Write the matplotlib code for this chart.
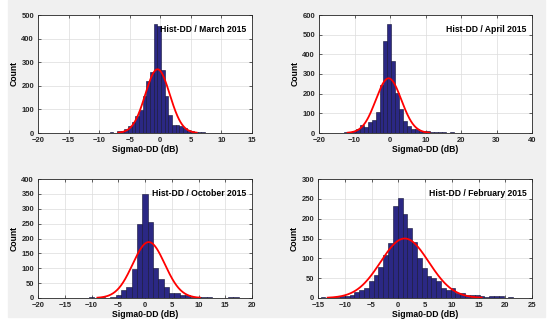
import numpy as np
import matplotlib
matplotlib.use("Agg")
import matplotlib.pyplot as plt
from matplotlib.patches import Rectangle

plt.rcParams['font.family'] = ['Liberation Sans', 'DejaVu Sans']
plt.rcParams['font.weight'] = 'bold'

# histogram data: first bin edge, bin width, counts
march_start, march_width = -11.3, 0.6
march_counts = [2, 2, 1, 2, 1, 5, 2, 7, 8, 18, 30, 48, 70, 98, 155, 220, 258,
                462, 452, 268, 155, 77, 35, 35, 28, 20, 14, 8, 5, 3, 3, 2, 2]
march_fit = (-0.45, 2.0, 270)   # mu, sigma, peak

april_start, april_width = -15.05, 1.1
april_counts = [2, 2, 3, 5, 10, 18, 40, 32, 58, 68, 105, 245, 470, 555,
                365, 205, 120, 60, 35, 22, 20, 12, 12, 8, 6, 5, 3, 3, 2, 3]
april_fit = (-0.4, 3.6, 278)

october_start, october_width = -10.5, 1.0
october_counts = [3, 1, 2, 1, 4, 10, 28, 36, 96, 248, 351, 257, 100, 64, 36,
                  16, 16, 11, 10, 4, 3, 3, 2, 0, 0, 1, 2, 2]
october_fit = (0.7, 3.0, 188)

february_start, february_width = -14.5, 0.9
february_counts = [2, 0, 1, 3, 5, 6, 8, 15, 20, 25, 42, 58, 78, 108, 138, 233,
                   252, 212, 176, 140, 100, 75, 56, 50, 44, 25, 20, 24, 13, 12,
                   8, 7, 7, 5, 3, 5, 5, 6, 0, 2]
february_fit = (1.2, 4.5, 150)

panels = [
    ("Hist-DD / March 2015", march_start, march_width, march_counts, march_fit,
     (-20, 15, 5), (0, 500, 100), (38, 15, 214, 118)),
    ("Hist-DD / April 2015", april_start, april_width, april_counts, april_fit,
     (-20, 40, 10), (0, 600, 100), (319, 15, 213, 118)),
    ("Hist-DD / October 2015", october_start, october_width, october_counts, october_fit,
     (-20, 20, 5), (0, 400, 50), (38, 179, 214, 119)),
    ("Hist-DD / February 2015", february_start, february_width, february_counts, february_fit,
     (-15, 25, 5), (0, 300, 50), (318, 179, 214, 119)),
]

W, H = 550, 324
fig = plt.figure(figsize=(W / 100, H / 100), dpi=100, facecolor='white')
fig.patches.append(Rectangle((8 / W, 7 / H), 537 / W, 317 / H,
                             transform=fig.transFigure, color='#f0f0f0', zorder=-1))

for title, start, width, counts, fit, xr, yr, box in panels:
    x0, y0, w, h = box
    ax = fig.add_axes([x0 / W, (H - y0 - h) / H, w / W, h / H])
    ax.set_facecolor('white')
    edges = start + width * np.arange(len(counts))
    ax.bar(edges, counts, width=width, align='edge', color='#2b2884',
           edgecolor='#111133', linewidth=0.4, zorder=2)
    mu, sigma, peak = fit
    xs = np.linspace(mu - 3.2 * sigma, mu + 3.2 * sigma, 200)
    ax.plot(xs, peak * np.exp(-0.5 * ((xs - mu) / sigma) ** 2), color='red',
            lw=1.3, zorder=3)
    ax.set_xlim(xr[0], xr[1])
    ax.set_ylim(yr[0], yr[1])
    ax.set_xticks(np.arange(xr[0], xr[1] + 0.1, xr[2]))
    ax.set_yticks(np.arange(yr[0], yr[1] + 0.1, yr[2]))
    ax.grid(True, color='#dcdcdc', lw=0.5, zorder=0)
    ax.set_axisbelow(True)
    ax.tick_params(direction='in', length=2, width=0.5, labelsize=5.5,
                   pad=2.8, top=True, right=True, colors='#262626')
    for s in ax.spines.values():
        s.set_linewidth(0.6)
        s.set_color('#262626')
    ax.set_xlabel("Sigma0-DD (dB)", fontsize=6.2, fontweight='bold', labelpad=1)
    ax.set_ylabel("Count", fontsize=6.2, fontweight='bold', labelpad=2)
    ax.text(0.975, 0.88, title, transform=ax.transAxes, ha='right', va='center',
            fontsize=6.2, fontweight='bold', zorder=4)

fig.savefig("out.png", dpi=100)
